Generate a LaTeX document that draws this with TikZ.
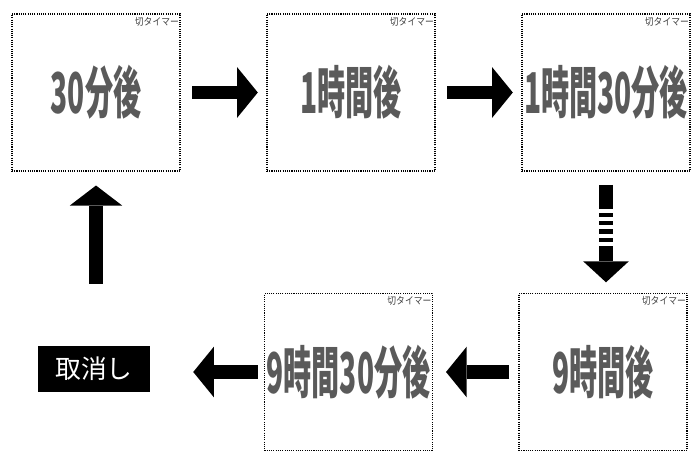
\documentclass[tikz,border=0pt]{standalone}
\usepackage{fontspec}
\usepackage{graphicx}
\usepackage{tikz}
\usetikzlibrary{arrows.meta,calc,positioning}
\newfontfamily\jp{Noto Sans CJK JP}
\definecolor{ink}{HTML}{5A5A5A}
\newcommand{\lcd}[1]{{\jp\bfseries\fontsize{48pt}{48pt}\selectfont\color{ink}\scalebox{0.5}[1]{#1}}}
\newcommand{\tagtxt}[1]{\scalebox{0.88}[1]{#1}}

\begin{document}
\begin{tikzpicture}[x=0.03cm,y=-0.03cm,
  screen/.style={draw=black,densely dotted,line width=0.9pt,minimum width=5.04cm,minimum height=4.71cm,inner sep=0pt},
  tag/.style={inner sep=0pt,anchor=north east,font=\jp\fontsize{8.5pt}{9pt}\selectfont,text=black!75},
  blockarrow/.style={line width=0.4cm,-{Triangle[width=1.52cm,length=0.62cm 0,line width=0pt 0]}},
  cancelbox/.style={fill=black,text=white,minimum width=3.36cm,minimum height=1.38cm,inner sep=0pt,font=\jp\fontsize{22pt}{22pt}\selectfont}]
\useasboundingbox (0,0) rectangle (691,454);
% timer screens
\foreach \n/\cx/\cy/\txt in {s1/96/92.5/30分後,s2/351/92.5/1時間後,s3/606/92.5/1時間30分後,s4/348.5/372/9時間30分後,s5/603/372/9時間後}{
  \node[screen] (\n) at (\cx,\cy) {};
  \node at (\n) {\lcd{\txt}};
  \node[tag] (\n tag) at ($(\n.north east)+(-1.5,3.5)$) {\tagtxt{切タイマー}};
}
\node[cancelbox] (cancel) at (94,369) {取消し};
% arrows
\draw[blockarrow,shorten <=0.35cm,shorten >=0.26cm] (s1.east) -- (s2.west);
\draw[blockarrow,shorten <=0.35cm,shorten >=0.26cm] (s2.east) -- (s3.west);
\draw[blockarrow,-{Triangle[width=1.37cm,length=0.63cm 0,line width=0pt 0]},shorten <=0.4cm,shorten >=0.32cm] (s3.south) -- (s3.south |- s5.north);
\draw[white,line width=0.5cm,dash pattern=on 0.12cm off 0.13cm] ($(s3.south)+(0,37)$) -- ($(s3.south)+(0,75)$);
\draw[blockarrow,shorten <=0.27cm,shorten >=0.39cm] (s5.west) -- (s4.east);
\draw[blockarrow,shorten <=0.18cm,shorten >=1.29cm] (s4.west) -- (cancel.east |- s4.west);
\draw[blockarrow,-{Triangle[width=1.57cm,length=0.6cm 0,line width=0pt 0]},shorten <=1.86cm,shorten >=0.42cm] (s1.south |- cancel.north) -- (s1.south);
\end{tikzpicture}
\end{document}
